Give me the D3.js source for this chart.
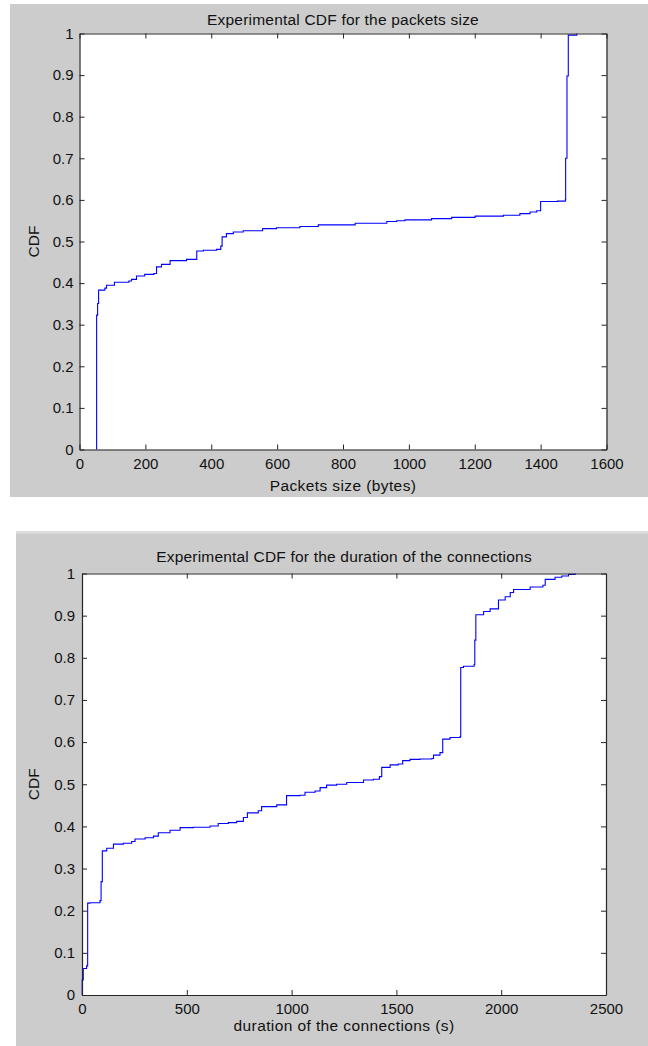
<!DOCTYPE html>
<html>
<head>
<meta charset="utf-8">
<script src="https://cdn.jsdelivr.net/npm/d3@7"></script>
<style>
  html, body { margin: 0; padding: 0; background: #ffffff; }
  svg { display: block; }
  text { font-family: "Liberation Sans", Arial, sans-serif; fill: #111; }
</style>
</head>
<body>
<svg id="chart" width="648" height="1046"></svg>
<script>
// Empirical CDF of packet sizes: [size in bytes, cumulative fraction]
const packetSize = [52, 52, 55, 58, 77, 82, 106, 150, 158, 173, 198, 226, 234, 249, 275, 325, 356, 376, 416, 429, 433, 446, 467, 497, 556, 598, 669, 725, 837, 933, 963, 988, 1069, 1130, 1201, 1287, 1337, 1368, 1388, 1400, 1451, 1475, 1476, 1480, 1484, 1510];
const packetCdf  = [0, 0.323, 0.351, 0.383, 0.388, 0.395, 0.402, 0.405, 0.409, 0.417, 0.421, 0.423, 0.439, 0.445, 0.454, 0.457, 0.477, 0.479, 0.481, 0.489, 0.511, 0.519, 0.523, 0.526, 0.531, 0.533, 0.536, 0.540, 0.544, 0.548, 0.550, 0.552, 0.555, 0.558, 0.561, 0.563, 0.567, 0.571, 0.574, 0.596, 0.597, 0.600, 0.700, 0.898, 0.996, 1.0];

// Empirical CDF of connection durations: [duration in seconds, cumulative fraction]
const duration    = [0, 1, 6, 22, 27, 38, 86, 91, 97, 118, 150, 197, 237, 253, 301, 341, 364, 420, 468, 531, 611, 650, 698, 738, 770, 789, 841, 857, 929, 976, 1040, 1064, 1112, 1136, 1167, 1215, 1263, 1343, 1390, 1419, 1430, 1470, 1509, 1530, 1565, 1613, 1669, 1677, 1708, 1721, 1756, 1804, 1807, 1820, 1871, 1874, 1879, 1916, 1947, 1987, 2019, 2043, 2059, 2138, 2199, 2210, 2257, 2289, 2321, 2353];
const durationCdf = [0, 0.036, 0.063, 0.069, 0.218, 0.219, 0.224, 0.269, 0.342, 0.348, 0.358, 0.360, 0.364, 0.370, 0.373, 0.377, 0.385, 0.391, 0.397, 0.398, 0.401, 0.407, 0.409, 0.412, 0.421, 0.432, 0.437, 0.447, 0.451, 0.473, 0.474, 0.481, 0.484, 0.492, 0.498, 0.500, 0.504, 0.510, 0.512, 0.518, 0.540, 0.546, 0.548, 0.556, 0.559, 0.560, 0.561, 0.569, 0.575, 0.607, 0.611, 0.613, 0.777, 0.780, 0.784, 0.842, 0.902, 0.910, 0.916, 0.937, 0.945, 0.955, 0.962, 0.968, 0.972, 0.986, 0.991, 0.994, 0.998, 1.0];

// Tick values
const yTicks = [0, 0.1, 0.2, 0.3, 0.4, 0.5, 0.6, 0.7, 0.8, 0.9, 1];
const packetTicks = [0, 200, 400, 600, 800, 1000, 1200, 1400, 1600];
const durationTicks = [0, 500, 1000, 1500, 2000, 2500];

const svg = d3.select("#chart");
const FONT = "'Liberation Sans', Arial, sans-serif";

function drawPanel(cfg) {
  const g = svg.append("g");

  // figure background
  g.append("rect")
    .attr("x", cfg.bg[0]).attr("y", cfg.bg[1])
    .attr("width", cfg.bg[2]).attr("height", cfg.bg[3])
    .attr("fill", "#cccccc");
  if (cfg.topBand) {
    g.append("rect")
      .attr("x", cfg.bg[0]).attr("y", cfg.bg[1])
      .attr("width", cfg.bg[2]).attr("height", 2.5)
      .attr("fill", "#dedede");
  }

  const x = d3.scaleLinear().domain(cfg.xDomain).range([cfg.left, cfg.right]);
  const y = d3.scaleLinear().domain([0, 1]).range([cfg.bottom, cfg.top]);

  // plotting area
  g.append("rect")
    .attr("x", cfg.left).attr("y", cfg.top)
    .attr("width", cfg.right - cfg.left).attr("height", cfg.bottom - cfg.top)
    .attr("fill", "#ffffff");

  // CDF trace drawn as stairs
  const pts = cfg.xs.map((v, i) => [v, cfg.ys[i]]);
  const line = d3.line()
    .x(d => x(d[0]))
    .y(d => y(d[1]))
    .curve(d3.curveStepAfter);
  g.append("path")
    .attr("d", line(pts))
    .attr("fill", "none")
    .attr("stroke", "#0000ff")
    .attr("stroke-width", 1.1);

  const tickLen = -5;
  const styleAxis = sel => {
    sel.selectAll("path.domain").attr("stroke", "#262626").attr("stroke-width", 1.2);
    sel.selectAll(".tick line").attr("stroke", "#262626");
    sel.selectAll(".tick text")
      .attr("fill", "#111")
      .style("font-size", "15px")
      .style("font-family", FONT);
  };

  g.append("g").attr("transform", `translate(0,${cfg.bottom})`)
    .call(d3.axisBottom(x).tickValues(cfg.xTicks).tickFormat(d3.format("d"))
      .tickSize(tickLen).tickSizeOuter(0).tickPadding(cfg.xPad))
    .call(styleAxis);
  g.append("g").attr("transform", `translate(0,${cfg.top})`)
    .call(d3.axisTop(x).tickValues(cfg.xTicks).tickFormat("")
      .tickSize(tickLen).tickSizeOuter(0))
    .call(styleAxis);
  g.append("g").attr("transform", `translate(${cfg.left},0)`)
    .call(d3.axisLeft(y).tickValues(yTicks).tickFormat(d => d3.format("~g")(d))
      .tickSize(tickLen).tickSizeOuter(0).tickPadding(cfg.yPad))
    .call(styleAxis);
  g.append("g").attr("transform", `translate(${cfg.right},0)`)
    .call(d3.axisRight(y).tickValues(yTicks).tickFormat("")
      .tickSize(tickLen).tickSizeOuter(0))
    .call(styleAxis);

  const cx = (cfg.left + cfg.right) / 2;
  g.append("text")
    .attr("x", cx).attr("y", cfg.titleY)
    .attr("text-anchor", "middle")
    .style("font-size", "15.5px")
    .style("letter-spacing", "0.2px")
    .text(cfg.title);
  g.append("text")
    .attr("x", cx).attr("y", cfg.xLabelY)
    .attr("text-anchor", "middle")
    .style("font-size", "15.5px")
    .style("letter-spacing", "0.4px")
    .text(cfg.xLabel);
  g.append("text")
    .attr("transform", `translate(${cfg.yLabelX},${(cfg.top + cfg.bottom) / 2}) rotate(-90)`)
    .attr("text-anchor", "middle")
    .style("font-size", "15.5px")
    .text("CDF");
}

drawPanel({
  bg: [10, 4, 638, 493],
  left: 79.5, right: 606.5, top: 33.5, bottom: 449.5,
  xDomain: [0, 1600], xTicks: packetTicks,
  xs: packetSize, ys: packetCdf,
  xPad: 9, yPad: 6,
  title: "Experimental CDF for the packets size",
  xLabel: "Packets size (bytes)",
  titleY: 25, xLabelY: 491, yLabelX: 39
});

drawPanel({
  bg: [16, 531, 632, 515], topBand: true,
  left: 82, right: 606, top: 573.5, bottom: 995,
  xDomain: [0, 2500], xTicks: durationTicks,
  xs: duration, ys: durationCdf,
  xPad: 8.5, yPad: 7,
  title: "Experimental CDF for the duration of the connections",
  xLabel: "duration of the connections (s)",
  titleY: 562, xLabelY: 1031, yLabelX: 39
});
</script>
</body>
</html>
